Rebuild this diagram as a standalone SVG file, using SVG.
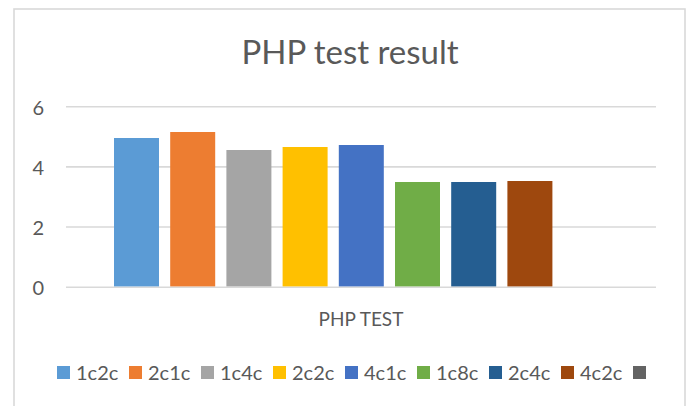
<svg xmlns="http://www.w3.org/2000/svg" width="688" height="406" viewBox="0 0 688 406">
  <style>
    .txt { font-family: Lato, "Open Sans", "Liberation Sans", sans-serif; fill: #595959; }
    .title { font-size: 33px; }
    .tick { font-size: 20px; text-anchor: end; }
    .axis { font-size: 19px; text-anchor: middle; }
    .leg { font-size: 20px; }
    .grid { stroke: #d9d9d9; stroke-width: 1.6; }
    .frame { fill: #ffffff; stroke: #d9d9d9; stroke-width: 1.6; }
  </style>
  <rect width="688" height="406" fill="#ffffff"/>
  <!-- chart area border (bottom edge runs off the canvas) -->
  <rect class="frame" x="14" y="9" width="671" height="420"/>

  <text class="txt title" x="350" y="64" text-anchor="middle">PHP test result</text>

  <!-- value axis gridlines and labels -->
  <g id="value-axis">
    <line class="grid" x1="66" y1="106.8" x2="656" y2="106.8"/>
    <line class="grid" x1="66" y1="166.9" x2="656" y2="166.9"/>
    <line class="grid" x1="66" y1="227.0" x2="656" y2="227.0"/>
    <line class="grid" x1="66" y1="287.2" x2="656" y2="287.2"/>
    <text class="txt tick" x="44" y="115">6</text>
    <text class="txt tick" x="44" y="175">4</text>
    <text class="txt tick" x="44" y="235">2</text>
    <text class="txt tick" x="44" y="295">0</text>
  </g>

  <!-- one bar per series -->
  <g id="bars">
    <rect id="bar-1c2c" x="114" y="138" width="45" height="148.4" fill="#5b9bd5"/>
    <rect id="bar-2c1c" x="170.2" y="132" width="45" height="154.4" fill="#ed7d31"/>
    <rect id="bar-1c4c" x="226.4" y="150" width="45" height="136.4" fill="#a5a5a5"/>
    <rect id="bar-2c2c" x="282.6" y="147" width="45" height="139.4" fill="#ffc000"/>
    <rect id="bar-4c1c" x="338.8" y="145" width="45" height="141.4" fill="#4472c4"/>
    <rect id="bar-1c8c" x="395" y="182" width="45" height="104.4" fill="#70ad47"/>
    <rect id="bar-2c4c" x="451.2" y="182" width="45" height="104.4" fill="#255e91"/>
    <rect id="bar-4c2c" x="507.4" y="181" width="45" height="105.4" fill="#9e480e"/>
  </g>

  <text class="txt axis" x="361" y="325.5">PHP TEST</text>

  <!-- legend -->
  <g id="legend">
    <rect x="57" y="366" width="13" height="13" fill="#5b9bd5"/>
    <text class="txt leg" x="76" y="379.5">1c2c</text>
    <rect x="129" y="366" width="13" height="13" fill="#ed7d31"/>
    <text class="txt leg" x="148" y="379.5">2c1c</text>
    <rect x="201" y="366" width="13" height="13" fill="#a5a5a5"/>
    <text class="txt leg" x="220" y="379.5">1c4c</text>
    <rect x="273" y="366" width="13" height="13" fill="#ffc000"/>
    <text class="txt leg" x="292" y="379.5">2c2c</text>
    <rect x="345" y="366" width="13" height="13" fill="#4472c4"/>
    <text class="txt leg" x="364" y="379.5">4c1c</text>
    <rect x="417" y="366" width="13" height="13" fill="#70ad47"/>
    <text class="txt leg" x="436" y="379.5">1c8c</text>
    <rect x="489" y="366" width="13" height="13" fill="#255e91"/>
    <text class="txt leg" x="508" y="379.5">2c4c</text>
    <rect x="561" y="366" width="13" height="13" fill="#9e480e"/>
    <text class="txt leg" x="580" y="379.5">4c2c</text>
    <rect x="633" y="366" width="13" height="13" fill="#636363"/>
  </g>
</svg>
